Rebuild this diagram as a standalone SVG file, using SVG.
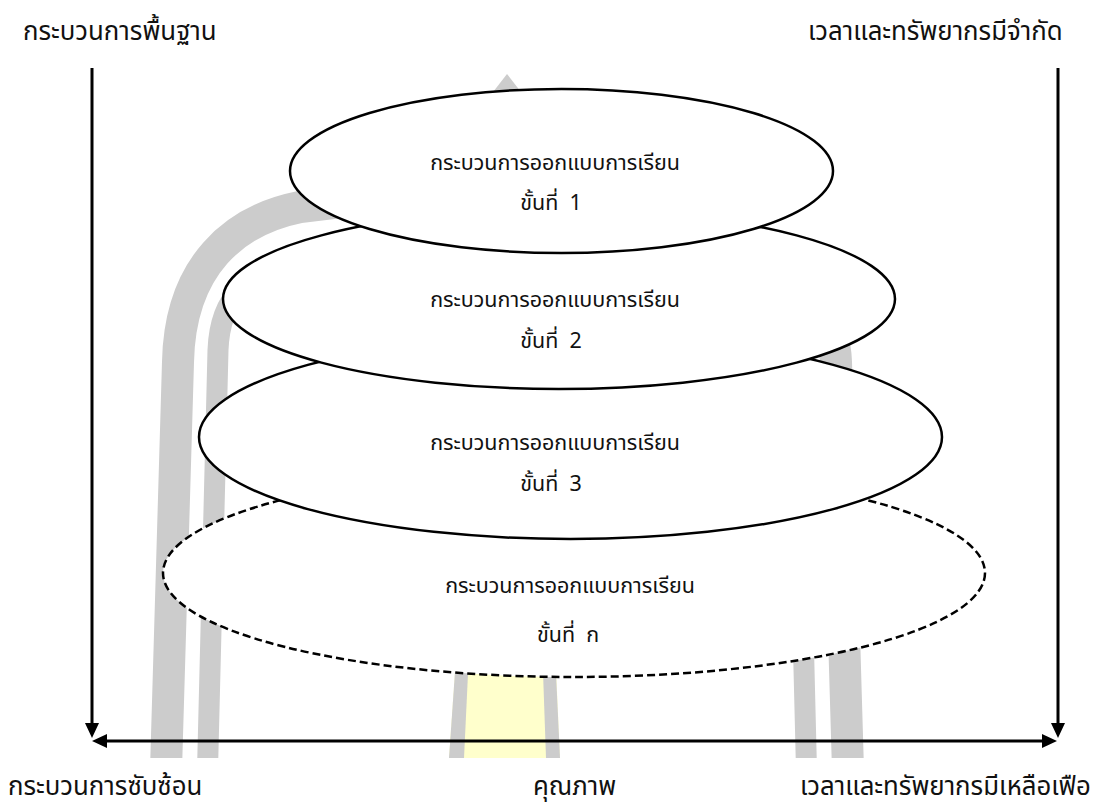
<svg xmlns="http://www.w3.org/2000/svg" width="1098" height="809" viewBox="0 0 1098 809">
<style>
.lbl{font-family:'Noto Sans Thai','Leelawadee UI',Tahoma,'DejaVu Sans',sans-serif;font-size:25.8px;fill:#111}
.txt{font-family:'Noto Sans Thai','Leelawadee UI',Tahoma,'DejaVu Sans',sans-serif;font-size:21.5px;fill:#111;text-anchor:middle}
.band{fill:none;stroke:#cccccc;stroke-linecap:butt;stroke-linejoin:round}
.el{fill:#fff;stroke:#000;stroke-width:2.5}
.dash{stroke-dasharray:8 4}
.axis{stroke:#000;stroke-width:3;fill:none}
</style>
<defs>
<marker id="ah" markerUnits="userSpaceOnUse" markerWidth="16" markerHeight="14" refX="5" refY="7" orient="auto-start-reverse" viewBox="0 0 16 14">
<path d="M0,0 L15,7 L0,14 z" fill="#000"/>
</marker>
<clipPath id="clipb"><rect x="0" y="0" width="1098" height="758"/></clipPath>
</defs>

<g id="background-arrow" clip-path="url(#clipb)">
<polygon points="507,74 469,123 545,123" fill="#cccccc"/>
<path class="band" stroke-width="32" d="M166,770 L178,362 C180,265 235,220 300,207 L440,190"/>
<path class="band" stroke-width="21" d="M207.5,770 L218,350 C219,325 225,305 240,290 L330,250"/>
<path class="band" stroke-width="32" d="M848,770 L836,362 C834,300 780,265 700,245"/>
<path class="band" stroke-width="21" d="M806.5,770 L796,345 C795,300 740,270 680,255"/>
<polygon points="460,600 553,600 560,758 449,758" fill="#ffffcc"/>
<polygon points="460,600 471.5,600 464,758 449,758" fill="#cccccc"/>
<polygon points="540.5,600 552.5,600 560,758 546,758" fill="#cccccc"/>
</g>

<g id="node-step-n">
<ellipse class="el dash" cx="574" cy="573" rx="411" ry="104"/>
<text class="txt" x="570" y="593">กระบวนการออกแบบการเรียน</text>
<text class="txt" x="568" y="642" xml:space="preserve">ขั้นที่  ก</text>
</g>
<g id="node-step-3">
<ellipse class="el" cx="570.5" cy="437" rx="371.5" ry="102"/>
<text class="txt" x="555" y="450">กระบวนการออกแบบการเรียน</text>
<text class="txt" x="551" y="491" xml:space="preserve">ขั้นที่  3</text>
</g>
<g id="node-step-2">
<ellipse class="el" cx="559" cy="299" rx="336" ry="90"/>
<text class="txt" x="555" y="307">กระบวนการออกแบบการเรียน</text>
<text class="txt" x="551" y="348" xml:space="preserve">ขั้นที่  2</text>
</g>
<g id="node-step-1">
<ellipse class="el" cx="561.5" cy="171" rx="271.5" ry="82"/>
<text class="txt" x="555" y="170">กระบวนการออกแบบการเรียน</text>
<text class="txt" x="551" y="210" xml:space="preserve">ขั้นที่  1</text>
</g>

<g id="connectors">
<line class="axis" x1="92" y1="68" x2="92" y2="728" marker-end="url(#ah)"/>
<line class="axis" x1="1058" y1="68" x2="1058" y2="728" marker-end="url(#ah)"/>
<line class="axis" x1="102" y1="741" x2="1047" y2="741" marker-start="url(#ah)" marker-end="url(#ah)"/>
</g>

<g id="labels">
<text class="lbl" x="23" y="40">กระบวนการพื้นฐาน</text>
<text class="lbl" x="808" y="40">เวลาและทรัพยากรมีจำกัด</text>
<text class="lbl" x="8" y="795">กระบวนการซับซ้อน</text>
<text class="lbl" x="533" y="795">คุณภาพ</text>
<text class="lbl" x="800" y="795">เวลาและทรัพยากรมีเหลือเฟือ</text>
</g>
</svg>
